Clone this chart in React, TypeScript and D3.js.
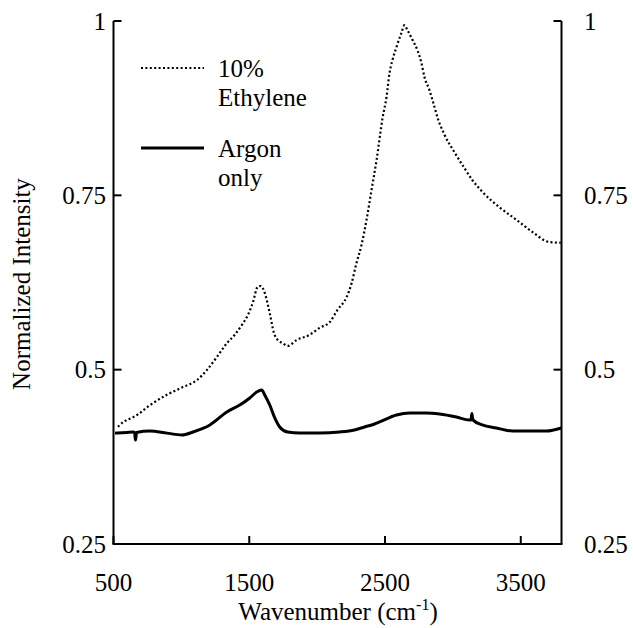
import React from "react";
import * as d3 from "d3";

const ethyleneWavenumber = [533, 548, 673, 768, 893, 1011, 1114, 1188, 1261, 1335, 1393, 1445, 1489, 1526, 1563, 1585, 1614, 1651, 1680, 1710, 1746, 1783, 1849, 1945, 2018, 2092, 2151, 2217, 2254, 2290, 2327, 2364, 2401, 2438, 2482, 2511, 2533, 2555, 2585, 2621, 2643, 2665, 2702, 2739, 2768, 2790, 2827, 2864, 2886, 2938, 3011, 3085, 3143, 3217, 3342, 3467, 3585, 3710, 3795];
const ethyleneIntensity = [0.418, 0.421, 0.435, 0.449, 0.464, 0.475, 0.485, 0.4995, 0.518, 0.538, 0.55, 0.564, 0.578, 0.596, 0.619, 0.62, 0.61, 0.581, 0.554, 0.5425, 0.538, 0.534, 0.5425, 0.55, 0.56, 0.568, 0.586, 0.604, 0.624, 0.653, 0.679, 0.715, 0.758, 0.801, 0.861, 0.891, 0.925, 0.944, 0.963, 0.983, 0.994, 0.987, 0.973, 0.958, 0.94, 0.92, 0.901, 0.877, 0.862, 0.837, 0.812, 0.789, 0.772, 0.755, 0.733, 0.715, 0.6975, 0.683, 0.682];

const argonWavenumber = [511, 600, 643, 655, 662, 670, 768, 893, 1004, 1085, 1210, 1335, 1430, 1504, 1555, 1592, 1614, 1651, 1688, 1724, 1783, 1871, 2018, 2165, 2275, 2349, 2423, 2460, 2585, 2680, 2805, 2901, 3026, 3121, 3133, 3140, 3147, 3217, 3320, 3438, 3563, 3688, 3800];
const argonIntensity = [0.409, 0.41, 0.4106, 0.41, 0.399, 0.41, 0.412, 0.409, 0.4063, 0.4106, 0.4207, 0.4393, 0.4493, 0.4594, 0.468, 0.4708, 0.4637, 0.4493, 0.4307, 0.4178, 0.4106, 0.4092, 0.4092, 0.4106, 0.4135, 0.4178, 0.4221, 0.425, 0.435, 0.4379, 0.4379, 0.4364, 0.4321, 0.4278, 0.4278, 0.437, 0.428, 0.4207, 0.4164, 0.412, 0.412, 0.412, 0.4164];

const xTicks = [500, 1500, 2500, 3500];
const yTicks = [0.25, 0.5, 0.75, 1];
const yTickLabels = ["0.25", "0.5", "0.75", "1"];
const legendLabels = [["10%", "Ethylene"], ["Argon", "only"]];

const CSS = "svg.chart text, svg.chart tspan { font-family: 'Liberation Serif', 'Times New Roman', serif !important; }";

export default function App() {
  const x = d3.scaleLinear().domain([500, 3800]).range([113.5, 561.5]);
  const y = d3.scaleLinear().domain([0.25, 1]).range([544, 21]);
  const line = d3
    .line<[number, number]>()
    .x((d) => x(d[0]))
    .y((d) => y(d[1]))
    .curve(d3.curveMonotoneX);
  const eth = ethyleneWavenumber.map((w, i) => [w, ethyleneIntensity[i]] as [number, number]);
  const arg = argonWavenumber.map((w, i) => [w, argonIntensity[i]] as [number, number]);
  const x0 = x.range()[0];
  const x1 = x.range()[1];
  const y0 = y.range()[0];
  const y1 = y.range()[1];
  const fs = 25;
  return (
    <svg className="chart" width={633} height={628} style={{ position: "absolute", left: 0, top: 0 }}>
      <style>{CSS}</style>
      <path d={line(arg) || ""} fill="none" stroke="#000" strokeWidth={3} strokeLinejoin="round" />
      <path d={line(eth) || ""} fill="none" stroke="#000" strokeWidth={2.2} strokeDasharray="2 2.4" />
      <line x1={x0} x2={x0} y1={y1} y2={y0} stroke="#000" strokeWidth={2} />
      <line x1={x1} x2={x1} y1={y1} y2={y0} stroke="#000" strokeWidth={2} />
      <line x1={x0 - 1} x2={x1 + 1} y1={y0} y2={y0} stroke="#000" strokeWidth={2} />
      {yTicks.map((t) => (
        <g key={"yt" + t}>
          <line x1={x0} x2={x0 + 8} y1={y(t)} y2={y(t)} stroke="#000" strokeWidth={2} />
          <line x1={x1 - 8} x2={x1} y1={y(t)} y2={y(t)} stroke="#000" strokeWidth={2} />
        </g>
      ))}
      {xTicks.map((t) => (
        <line key={"xt" + t} x1={x(t)} x2={x(t)} y1={y0} y2={y0 - 8} stroke="#000" strokeWidth={2} />
      ))}
      {yTicks.map((t, i) => (
        <text key={"yl" + t} x={106} y={y(t) + 8.5} textAnchor="end" fontSize={fs}>
          {yTickLabels[i]}
        </text>
      ))}
      {yTicks.map((t, i) => (
        <text key={"yr" + t} x={584} y={y(t) + 8.5} fontSize={fs}>
          {yTickLabels[i]}
        </text>
      ))}
      {xTicks.map((t) => (
        <text key={"xl" + t} x={x(t)} y={591} textAnchor="middle" fontSize={fs}>
          {String(t)}
        </text>
      ))}
      <text x={338} y={620} textAnchor="middle" fontSize={fs}>
        Wavenumber (cm<tspan fontSize={16} dy={-10}>-1</tspan><tspan dy={10}>)</tspan>
      </text>
      <text transform="translate(30,284) rotate(-90)" textAnchor="middle" fontSize={fs}>
        Normalized Intensity
      </text>
      <text x={218} y={77} fontSize={fs}>{legendLabels[0][0]}</text>
      <text x={218} y={106} fontSize={fs}>{legendLabels[0][1]}</text>
      <text x={218} y={157} fontSize={fs}>{legendLabels[1][0]}</text>
      <text x={218} y={186} fontSize={fs}>{legendLabels[1][1]}</text>
      <line x1={141} x2={204} y1={68} y2={68} stroke="#000" strokeWidth={2.2} strokeDasharray="2 2.4" />
      <line x1={141} x2={204} y1={148} y2={148} stroke="#000" strokeWidth={3} />
    </svg>
  );
}
